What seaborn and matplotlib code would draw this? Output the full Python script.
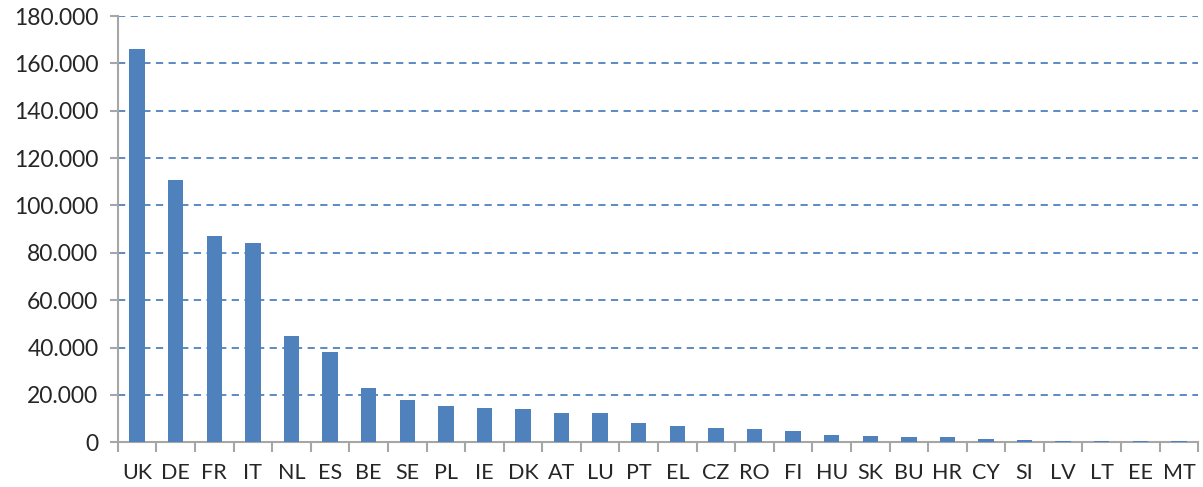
import numpy as np
import pandas as pd
import matplotlib
matplotlib.use('Agg')
import matplotlib.pyplot as plt
import matplotlib.ticker as mticker
import seaborn as sns

# Данные
countries = ['UK', 'DE', 'FR', 'IT', 'NL', 'ES', 'BE', 'SE', 'PL', 'IE', 'DK', 'AT', 'LU', 'PT',
             'EL', 'CZ', 'RO', 'FI', 'HU', 'SK', 'BU', 'HR', 'CY', 'SI', 'LV', 'LT', 'EE', 'MT']
values = [166300, 110700, 87200, 84100, 44800, 38000, 22900, 17900, 15200, 14600, 14100, 12500, 12300, 8200,
          7000, 5900, 5600, 4800, 3200, 2800, 2400, 2000, 1500, 1000, 700, 300, 300, 300]
y_ticks = [0, 20000, 40000, 60000, 80000, 100000, 120000, 140000, 160000, 180000]

df = pd.DataFrame({'country': countries, 'value': values})

sns.set_theme(style="white")
plt.rcParams['font.family'] = ['Lato', 'DejaVu Sans']

blue = '#4F81BD'
grey = '#A6A6A6'

fig = plt.figure(figsize=(12.03, 4.87), dpi=100)
ax = fig.add_axes([0.098, 0.092, 0.898, 0.875])

sns.barplot(data=df, x='country', y='value', color=blue, width=0.4, saturation=1,
            linewidth=0, ax=ax, zorder=3)

ax.set_ylim(0, 180000)
ax.set_xlim(-0.5, len(countries) - 0.5)
ax.set_yticks(y_ticks)
ax.yaxis.set_major_formatter(mticker.FuncFormatter(lambda v, p: f"{v:,.0f}".replace(',', '.')))

# пунктирная сетка
ax.yaxis.grid(True, linestyle=(0, (4, 3)), color=blue, linewidth=1.3, zorder=0)
ax.xaxis.grid(False)

# оси
for s in ['top', 'right']:
    ax.spines[s].set_visible(False)
for s in ['left', 'bottom']:
    ax.spines[s].set_color(grey)
    ax.spines[s].set_linewidth(1.5)

ax.tick_params(axis='y', which='major', direction='out', length=6, width=1.5, color=grey,
               labelsize=16.5, labelcolor='#262626', pad=8, left=True)
ax.tick_params(axis='x', which='major', length=0, labelsize=15.5, labelcolor='#262626', pad=15)
ax.set_xticks(np.arange(-0.5, len(countries), 1.0), minor=True)
ax.tick_params(axis='x', which='minor', direction='out', length=7, width=1.5, color=grey, bottom=True)

ax.set_xlabel('')
ax.set_ylabel('')

fig.savefig('out.png', dpi=100)
